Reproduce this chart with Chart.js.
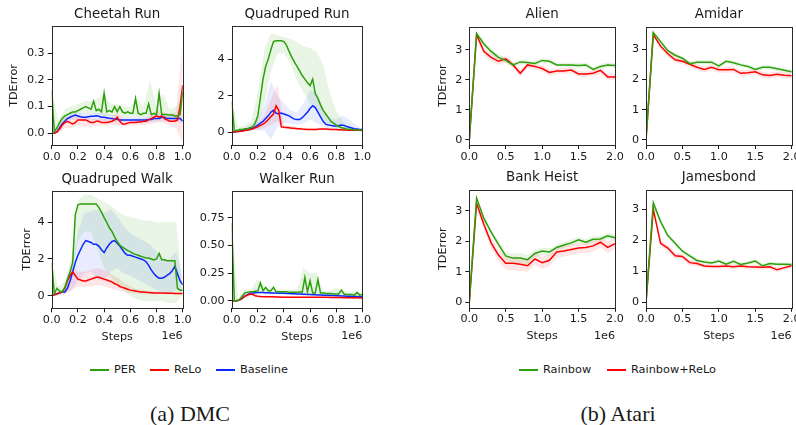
<!DOCTYPE html>
<html>
<head>
<meta charset="utf-8">
<script src="https://cdn.jsdelivr.net/npm/chart.js@4.4.1/dist/chart.umd.min.js"></script>
<style>
  html, body { margin: 0; padding: 0; background: #fff; overflow: hidden; }
  body { width: 796px; height: 425px; position: relative; font-family: "DejaVu Sans", sans-serif; color: #1a1a1a; }
  canvas { position: absolute; }
  .key { position: absolute; top: 362px; height: 16px; line-height: 16px; font-size: 11.3px; white-space: nowrap; }
  .key i { position: absolute; left: 0; top: 7px; width: 19px; height: 2px; }
  .key span { position: absolute; left: 24px; top: 0; }
  .cap { position: absolute; top: 403px; width: 200px; text-align: center; font-family: "Liberation Serif", serif; font-size: 22px; line-height: 22px; }
</style>
</head>
<body>
<div class="key" style="left:90px"><i style="background:rgb(44,160,10)"></i><span>PER</span></div>
<div class="key" style="left:150px"><i style="background:rgb(255,0,0)"></i><span>ReLo</span></div>
<div class="key" style="left:216px"><i style="background:rgb(10,40,255)"></i><span>Baseline</span></div>
<div class="key" style="left:519px"><i style="background:rgb(44,160,10)"></i><span>Rainbow</span></div>
<div class="key" style="left:607px"><i style="background:rgb(255,0,0)"></i><span>Rainbow+ReLo</span></div>
<div class="cap" style="left:90px">(a) DMC</div>
<div class="cap" style="left:518px">(b) Atari</div>
<script>
// ---- data (steps in units of 1e6) ----
const dmcSteps = [0, 0.02, 0.04, 0.06, 0.08, 0.1, 0.12, 0.14, 0.16, 0.18, 0.2, 0.22, 0.24, 0.26, 0.28, 0.3, 0.32, 0.34, 0.36, 0.38,
  0.4, 0.42, 0.44, 0.46, 0.48, 0.5, 0.52, 0.54, 0.56, 0.58, 0.6, 0.62, 0.64, 0.66, 0.68, 0.7, 0.72, 0.74, 0.76, 0.78,
  0.8, 0.82, 0.84, 0.86, 0.88, 0.9, 0.92, 0.94, 0.96, 0.98, 1.0];
const dmcBandSteps = [0, 0.05, 0.1, 0.15, 0.2, 0.25, 0.3, 0.35, 0.4, 0.45, 0.5, 0.55, 0.6, 0.65, 0.7, 0.75, 0.8, 0.85, 0.9, 0.95, 1.0];
const atariSteps = [0, 0.1, 0.2, 0.3, 0.4, 0.5, 0.6, 0.7, 0.8, 0.9, 1.0, 1.1, 1.2, 1.3, 1.4, 1.5, 1.6, 1.7, 1.8, 1.9, 2.0];

const dmcXTicks = [0, 0.2, 0.4, 0.6, 0.8, 1.0];
const atariXTicks = [0, 0.5, 1.0, 1.5, 2.0];

// Cheetah Run
const cheetahPER = [0.16, 0.005, 0.02, 0.04, 0.055, 0.065, 0.07, 0.075, 0.08, 0.08,
  0.085, 0.09, 0.095, 0.1, 0.095, 0.09, 0.12, 0.085, 0.09, 0.08,
  0.15, 0.08, 0.085, 0.08, 0.1, 0.08, 0.1, 0.08, 0.075, 0.08,
  0.075, 0.075, 0.13, 0.075, 0.07, 0.075, 0.075, 0.11, 0.07, 0.075,
  0.07, 0.15, 0.07, 0.07, 0.07, 0.068, 0.068, 0.065, 0.065, 0.07, 0.155];
const cheetahReLo = [0, 0, 0.005, 0.015, 0.03, 0.04, 0.045, 0.04, 0.035, 0.04,
  0.05, 0.05, 0.05, 0.05, 0.045, 0.04, 0.04, 0.045, 0.045, 0.04,
  0.04, 0.04, 0.042, 0.045, 0.05, 0.06, 0.045, 0.035, 0.035, 0.038,
  0.04, 0.04, 0.04, 0.042, 0.042, 0.045, 0.045, 0.05, 0.055, 0.06,
  0.065, 0.06, 0.065, 0.055, 0.05, 0.045, 0.045, 0.045, 0.05, 0.1, 0.18];
const cheetahBase = [0, 0, 0.005, 0.02, 0.035, 0.045, 0.055, 0.06, 0.065, 0.068,
  0.065, 0.062, 0.06, 0.06, 0.062, 0.064, 0.064, 0.066, 0.064, 0.06,
  0.06, 0.058, 0.056, 0.055, 0.053, 0.052, 0.05, 0.05, 0.05, 0.05,
  0.05, 0.05, 0.05, 0.05, 0.05, 0.05, 0.05, 0.052, 0.052, 0.055,
  0.055, 0.055, 0.06, 0.06, 0.055, 0.055, 0.055, 0.055, 0.055, 0.055, 0.045];
const cheetahPERLo = [0, 0.02, 0.05, 0.06, 0.07, 0.075, 0.075, 0.07, 0.065, 0.065, 0.065, 0.06, 0.06, 0.06, 0.06, 0.06, 0.055, 0.055, 0.055, 0.05, 0.05];
const cheetahPERHi = [0.16, 0.05, 0.09, 0.1, 0.11, 0.12, 0.12, 0.13, 0.15, 0.11, 0.11, 0.1, 0.1, 0.13, 0.1, 0.2, 0.1, 0.15, 0.09, 0.1, 0.16];
const cheetahReLoLo = [0, 0, 0.02, 0.02, 0.03, 0.025, 0.025, 0.03, 0.03, 0.03, 0.03, 0.025, 0.03, 0.03, 0.03, 0.035, 0.04, 0.04, 0.03, 0.02, -0.04];
const cheetahReLoHi = [0, 0.03, 0.06, 0.06, 0.07, 0.06, 0.055, 0.055, 0.055, 0.06, 0.075, 0.05, 0.05, 0.055, 0.055, 0.06, 0.085, 0.08, 0.07, 0.08, 0.35];
const cheetahBaseLo = [0, 0.01, 0.035, 0.05, 0.05, 0.05, 0.05, 0.045, 0.045, 0.04, 0.04, 0.04, 0.04, 0.04, 0.04, 0.04, 0.045, 0.045, 0.045, 0.045, 0.035];
const cheetahBaseHi = [0, 0.03, 0.06, 0.075, 0.08, 0.075, 0.075, 0.075, 0.075, 0.07, 0.065, 0.06, 0.06, 0.06, 0.06, 0.065, 0.07, 0.07, 0.075, 0.07, 0.06];

// Quadruped Run
const quadRunPER = [1.7, 0.1, 0.1, 0.15, 0.15, 0.2, 0.2, 0.25, 0.3, 0.5,
  0.9, 1.9, 2.9, 3.6, 4.0, 4.5, 4.95, 5.0, 5.0, 5.0,
  4.95, 4.75, 4.4, 4.1, 3.85, 3.6, 3.35, 3.1, 2.9, 2.7,
  2.55, 2.9, 2.1, 1.85, 1.5, 1.2, 1.0, 0.8, 0.6, 0.5,
  0.4, 0.32, 0.25, 0.22, 0.18, 0.17, 0.15, 0.14, 0.13, 0.13, 0.12];
const quadRunReLo = [0, 0.02, 0.04, 0.05, 0.07, 0.1, 0.12, 0.15, 0.2, 0.25,
  0.3, 0.38, 0.45, 0.55, 0.7, 0.85, 1.0, 1.45, 1.2, 0.3,
  0.28, 0.27, 0.25, 0.23, 0.22, 0.2, 0.2, 0.18, 0.17, 0.16,
  0.15, 0.15, 0.16, 0.17, 0.18, 0.18, 0.18, 0.17, 0.16, 0.15,
  0.15, 0.14, 0.14, 0.13, 0.13, 0.12, 0.12, 0.12, 0.11, 0.11, 0.1];
const quadRunBase = [0, 0.02, 0.04, 0.06, 0.09, 0.12, 0.15, 0.18, 0.22, 0.3,
  0.4, 0.5, 0.6, 0.75, 0.9, 1.1, 1.2, 1.05, 1.0, 1.05,
  1.0, 0.95, 0.9, 0.8, 0.72, 0.7, 0.7, 0.8, 0.95, 1.1,
  1.3, 1.45, 1.35, 1.1, 0.85, 0.6, 0.45, 0.4, 0.38, 0.35,
  0.35, 0.38, 0.4, 0.38, 0.32, 0.28, 0.24, 0.2, 0.18, 0.16, 0.15];
const quadRunPERLo = [0, 0.05, 0.1, 0.15, 0.3, 1.5, 3.3, 4.3, 4.3, 3.8, 2.8, 2.2, 1.6, 1.2, 0.7, 0.4, 0.25, 0.15, 0.1, 0.1, 0.1];
const quadRunPERHi = [1.7, 0.3, 0.4, 0.6, 2.2, 4.5, 5.4, 5.3, 5.2, 5.1, 4.9, 4.7, 4.6, 4.4, 3.7, 2.2, 1.2, 0.6, 0.3, 0.2, 0.15];
const quadRunReLoLo = [0, 0.02, 0.05, 0.1, 0.15, 0.25, 0.4, 0.6, 0.2, 0.15, 0.12, 0.1, 0.1, 0.1, 0.12, 0.1, 0.1, 0.08, 0.08, 0.08, 0.08];
const quadRunReLoHi = [0, 0.05, 0.15, 0.3, 0.5, 0.9, 1.8, 2.6, 0.4, 0.35, 0.3, 0.25, 0.25, 0.25, 0.25, 0.22, 0.2, 0.17, 0.15, 0.13, 0.12];
const quadRunBaseLo = [0, 0, 0.05, 0.1, 0.1, 0.1, -0.4, 0.3, 0.5, 0.5, 0.4, 0.5, 0.7, 0.5, 0.3, 0.2, 0.1, 0.05, 0.05, 0.05, 0.05];
const quadRunBaseHi = [0, 0.1, 0.25, 0.45, 0.8, 1.4, 2.8, 2.0, 1.6, 1.2, 1.1, 1.6, 2.3, 2.2, 1.3, 0.8, 0.7, 0.9, 0.7, 0.4, 0.2];

// Quadruped Walk
const quadWalkPER = [1.8, 0.1, 0.4, 0.25, 0.2, 0.45, 0.9, 1.3, 1.8, 4.4,
  4.95, 5.0, 5.0, 5.0, 5.0, 5.0, 5.0, 5.0, 4.8, 4.55,
  4.25, 4.0, 3.7, 3.5, 3.2, 2.95, 2.75, 2.65, 2.55, 2.45,
  2.4, 2.3, 2.25, 2.2, 2.15, 2.1, 2.05, 2.05, 2.0, 1.95,
  2.0, 2.3, 1.95, 1.95, 1.9, 1.9, 1.9, 1.9, 0.4, 0.3, 0.3];
const quadWalkReLo = [0, 0.05, 0.1, 0.15, 0.2, 0.4, 0.8, 1.1, 1.3, 1.1,
  0.9, 0.85, 0.8, 0.8, 0.85, 0.9, 0.95, 1.0, 1.0, 0.95,
  0.9, 0.85, 0.8, 0.75, 0.65, 0.6, 0.5, 0.45, 0.4, 0.35,
  0.3, 0.28, 0.25, 0.22, 0.2, 0.2, 0.18, 0.17, 0.16, 0.15,
  0.15, 0.15, 0.14, 0.14, 0.13, 0.13, 0.13, 0.12, 0.12, 0.12, 0.12];
const quadWalkBase = [0, 0.05, 0.1, 0.15, 0.2, 0.2, 0.4, 0.8, 1.3, 1.8,
  2.2, 2.5, 2.8, 3.0, 2.95, 2.9, 2.8, 2.8, 2.7, 2.5,
  2.35, 2.6, 2.8, 2.95, 3.0, 2.85, 2.7, 2.5, 2.3, 2.2,
  2.2, 2.15, 2.1, 2.05, 2.0, 1.95, 1.85, 1.65, 1.4, 1.2,
  1.05, 0.95, 0.95, 1.0, 1.1, 1.2, 1.35, 1.6, 1.2, 0.8, 0.6];
const quadWalkPERLo = [0, 0.1, 0.3, 0.8, 3.0, 3.5, 3.5, 2.5, 1.5, 1.0, 0.5, 0.3, 0, -0.2, -0.3, -0.3, -0.3, -0.3, -0.4, -0.4, 0.1];
const quadWalkPERHi = [1.8, 0.5, 0.8, 2.0, 5.2, 5.5, 5.5, 5.3, 5.1, 4.9, 4.6, 4.4, 4.3, 4.2, 4.1, 4.1, 4.0, 4.0, 4.0, 4.0, 0.4];
const quadWalkReLoLo = [0, 0.02, 0.1, 0.3, 0.5, 0.5, 0.5, 0.6, 0.5, 0.4, 0.3, 0.2, 0.15, 0.1, 0.08, 0.08, 0.07, 0.07, 0.07, 0.06, 0.06];
const quadWalkReLoHi = [0, 0.1, 0.5, 1.6, 1.3, 1.3, 1.4, 1.5, 1.4, 1.2, 1.0, 0.7, 0.5, 0.35, 0.3, 0.25, 0.22, 0.2, 0.2, 0.18, 0.18];
const quadWalkBaseLo = [0, 0, 0.1, 0.3, 0.8, 1.2, 1.3, 0.9, 0.8, 1.3, 1.5, 1.2, 1.1, 0.9, 0.7, 0.5, 0.3, 0.2, 0.1, 0.3, 0.2];
const quadWalkBaseHi = [0, 0.1, 0.3, 1.5, 3.5, 4.5, 4.6, 4.7, 4.5, 4.7, 4.3, 3.8, 3.4, 3.2, 3.0, 2.8, 2.4, 2.0, 2.0, 2.4, 1.0];

// Walker Run
const walkerPER = [0.7, 0, 0, 0.01, 0.04, 0.07, 0.075, 0.08, 0.08, 0.085,
  0.09, 0.16, 0.09, 0.12, 0.09, 0.09, 0.12, 0.08, 0.08, 0.08,
  0.08, 0.08, 0.075, 0.075, 0.075, 0.075, 0.08, 0.075, 0.21, 0.08,
  0.18, 0.07, 0.07, 0.19, 0.07, 0.07, 0.065, 0.065, 0.065, 0.06,
  0.06, 0.06, 0.095, 0.06, 0.055, 0.055, 0.055, 0.05, 0.075, 0.05, 0.055];
const walkerReLo = [0, 0, 0, 0.005, 0.02, 0.04, 0.05, 0.058, 0.058, 0.045,
  0.04, 0.037, 0.035, 0.035, 0.035, 0.035, 0.035, 0.033, 0.033, 0.032,
  0.032, 0.032, 0.031, 0.031, 0.031, 0.03, 0.03, 0.03, 0.03, 0.03,
  0.03, 0.03, 0.03, 0.03, 0.03, 0.03, 0.03, 0.03, 0.029, 0.029,
  0.028, 0.028, 0.028, 0.027, 0.027, 0.027, 0.026, 0.026, 0.026, 0.025, 0.025];
const walkerBase = [0, 0, 0, 0.005, 0.02, 0.04, 0.055, 0.065, 0.07, 0.072,
  0.074, 0.074, 0.073, 0.072, 0.071, 0.07, 0.07, 0.069, 0.068, 0.067,
  0.066, 0.065, 0.064, 0.063, 0.062, 0.061, 0.06, 0.058, 0.057, 0.056,
  0.055, 0.054, 0.053, 0.052, 0.051, 0.05, 0.049, 0.048, 0.047, 0.046,
  0.045, 0.044, 0.043, 0.042, 0.041, 0.04, 0.039, 0.038, 0.037, 0.036, 0.035];
const walkerPERLo = [0, 0, 0.04, 0.06, 0.07, 0.07, 0.07, 0.065, 0.065, 0.06, 0.06, 0.06, 0.06, 0.055, 0.055, 0.05, 0.05, 0.045, 0.045, 0.045, 0.045];
const walkerPERHi = [0.7, 0.01, 0.1, 0.1, 0.2, 0.12, 0.12, 0.1, 0.1, 0.1, 0.1, 0.3, 0.25, 0.25, 0.09, 0.09, 0.12, 0.08, 0.08, 0.08, 0.07];
const walkerReLoLo = [0, 0, 0.025, 0.045, 0.03, 0.028, 0.028, 0.025, 0.025, 0.025, 0.025, 0.025, 0.025, 0.022, 0.022, 0.02, 0.02, 0.02, 0.02, 0.018, 0.018];
const walkerReLoHi = [0, 0, 0.05, 0.07, 0.05, 0.045, 0.042, 0.04, 0.04, 0.04, 0.04, 0.038, 0.038, 0.035, 0.035, 0.035, 0.033, 0.033, 0.032, 0.032, 0.03];
const walkerBaseLo = [0, 0, 0.03, 0.06, 0.065, 0.065, 0.062, 0.06, 0.058, 0.055, 0.052, 0.05, 0.048, 0.046, 0.044, 0.042, 0.04, 0.037, 0.035, 0.033, 0.031];
const walkerBaseHi = [0, 0, 0.05, 0.075, 0.082, 0.08, 0.078, 0.076, 0.075, 0.072, 0.07, 0.067, 0.064, 0.061, 0.058, 0.055, 0.052, 0.049, 0.046, 0.043, 0.04];

// Atari
const alienRainbow = [0, 3.55, 3.2, 2.95, 2.75, 2.65, 2.5, 2.6, 2.58, 2.55, 2.65, 2.62, 2.5, 2.5, 2.5, 2.48, 2.5, 2.35, 2.45, 2.5, 2.48];
const alienReLo = [0, 3.5, 2.95, 2.75, 2.62, 2.7, 2.5, 2.22, 2.5, 2.45, 2.38, 2.25, 2.3, 2.3, 2.33, 2.2, 2.2, 2.22, 2.32, 2.1, 2.1];
const alienRainbowLo = [0, 3.5, 3.1, 2.85, 2.65, 2.55, 2.42, 2.52, 2.5, 2.48, 2.57, 2.55, 2.43, 2.43, 2.43, 2.4, 2.42, 2.27, 2.37, 2.42, 2.4];
const alienRainbowHi = [0, 3.6, 3.3, 3.05, 2.85, 2.75, 2.6, 2.68, 2.66, 2.63, 2.73, 2.7, 2.57, 2.57, 2.57, 2.56, 2.58, 2.43, 2.53, 2.58, 2.56];
const alienReLoLo = [0, 3.45, 2.82, 2.62, 2.5, 2.58, 2.4, 2.1, 2.4, 2.35, 2.28, 2.15, 2.2, 2.2, 2.23, 2.1, 2.1, 2.12, 2.2, 2.0, 2.0];
const alienReLoHi = [0, 3.55, 3.08, 2.88, 2.74, 2.82, 2.6, 2.34, 2.6, 2.55, 2.48, 2.35, 2.4, 2.4, 2.43, 2.3, 2.3, 2.32, 2.44, 2.2, 2.2];

const amidarRainbow = [0, 3.55, 3.25, 2.95, 2.8, 2.7, 2.52, 2.57, 2.57, 2.57, 2.45, 2.6, 2.55, 2.48, 2.43, 2.33, 2.4, 2.4, 2.35, 2.3, 2.25];
const amidarReLo = [0, 3.48, 3.1, 2.85, 2.65, 2.6, 2.5, 2.4, 2.33, 2.4, 2.32, 2.32, 2.33, 2.2, 2.22, 2.25, 2.15, 2.13, 2.17, 2.14, 2.12];
const amidarRainbowLo = [0, 3.5, 3.18, 2.88, 2.73, 2.63, 2.45, 2.5, 2.5, 2.5, 2.38, 2.53, 2.48, 2.41, 2.36, 2.26, 2.33, 2.33, 2.28, 2.23, 2.18];
const amidarRainbowHi = [0, 3.6, 3.32, 3.02, 2.87, 2.77, 2.59, 2.64, 2.64, 2.64, 2.52, 2.67, 2.62, 2.55, 2.5, 2.4, 2.47, 2.47, 2.42, 2.37, 2.32];
const amidarReLoLo = [0, 3.43, 3.0, 2.75, 2.55, 2.5, 2.4, 2.3, 2.23, 2.3, 2.22, 2.22, 2.23, 2.1, 2.12, 2.15, 2.05, 2.03, 2.07, 2.04, 2.02];
const amidarReLoHi = [0, 3.53, 3.2, 2.95, 2.75, 2.7, 2.6, 2.5, 2.43, 2.5, 2.42, 2.42, 2.43, 2.3, 2.32, 2.35, 2.25, 2.23, 2.27, 2.24, 2.22];

const bankRainbow = [0, 3.42, 2.75, 2.3, 1.9, 1.52, 1.45, 1.45, 1.4, 1.6, 1.68, 1.65, 1.8, 1.88, 1.95, 2.05, 1.97, 2.07, 2.08, 2.18, 2.12];
const bankReLo = [0, 3.25, 2.55, 1.95, 1.55, 1.28, 1.28, 1.25, 1.2, 1.42, 1.3, 1.38, 1.65, 1.68, 1.73, 1.78, 1.8, 1.85, 1.97, 1.8, 1.92];
const bankRainbowLo = [0, 3.35, 2.65, 2.2, 1.78, 1.4, 1.3, 1.28, 1.25, 1.47, 1.55, 1.53, 1.7, 1.78, 1.85, 1.95, 1.87, 1.97, 1.98, 2.08, 2.02];
const bankRainbowHi = [0, 3.5, 2.85, 2.4, 2.02, 1.65, 1.6, 1.62, 1.55, 1.73, 1.8, 1.77, 1.9, 1.98, 2.05, 2.15, 2.07, 2.17, 2.18, 2.28, 2.22];
const bankReLoLo = [0, 3.15, 2.4, 1.78, 1.35, 1.08, 1.05, 1.03, 1.0, 1.22, 1.1, 1.18, 1.45, 1.5, 1.55, 1.6, 1.62, 1.67, 1.8, 1.6, 1.75];
const bankReLoHi = [0, 3.35, 2.7, 2.12, 1.75, 1.48, 1.5, 1.47, 1.4, 1.62, 1.5, 1.58, 1.85, 1.86, 1.91, 1.96, 1.98, 2.03, 2.14, 2.0, 2.09];

const jamesRainbow = [0, 3.2, 2.6, 2.15, 1.9, 1.65, 1.5, 1.35, 1.3, 1.27, 1.33, 1.23, 1.32, 1.22, 1.27, 1.33, 1.18, 1.25, 1.23, 1.23, 1.22];
const jamesReLo = [0, 3.0, 1.9, 1.75, 1.5, 1.48, 1.28, 1.25, 1.17, 1.16, 1.16, 1.17, 1.15, 1.17, 1.15, 1.14, 1.13, 1.15, 1.05, 1.12, 1.18];
const jamesRainbowLo = [0, 3.1, 2.52, 2.08, 1.83, 1.58, 1.44, 1.29, 1.24, 1.21, 1.27, 1.17, 1.26, 1.16, 1.21, 1.27, 1.12, 1.19, 1.17, 1.17, 1.16];
const jamesRainbowHi = [0, 3.35, 2.68, 2.22, 1.97, 1.72, 1.56, 1.41, 1.36, 1.33, 1.39, 1.29, 1.38, 1.28, 1.33, 1.39, 1.24, 1.31, 1.29, 1.29, 1.28];
const jamesReLoLo = [0, 2.85, 1.8, 1.65, 1.4, 1.38, 1.18, 1.17, 1.1, 1.09, 1.09, 1.1, 1.06, 1.1, 1.08, 1.07, 1.06, 1.08, 0.98, 1.05, 1.11];
const jamesReLoHi = [0, 3.1, 2.0, 1.85, 1.6, 1.58, 1.38, 1.33, 1.24, 1.23, 1.23, 1.24, 1.24, 1.24, 1.22, 1.21, 1.2, 1.22, 1.12, 1.19, 1.25];

// ---- drawing ----
const INK = '#1a1a1a';
const FONT = '"DejaVu Sans", sans-serif';
const GREEN = 'rgb(44,160,10)', RED = 'rgb(255,0,0)', BLUE = 'rgb(10,40,255)';
const GREEN_BAND = 'rgba(44,160,10,0.11)', RED_BAND = 'rgba(255,0,0,0.1)', BLUE_BAND = 'rgba(10,40,255,0.09)';
const TOP_H = 24;   // room above each plot for its title

// matplotlib-like closed frame, title centred over the plot, "1e6" offset label
const frame = {
  id: 'frame',
  afterDraw(chart, args, opts) {
    const {ctx, chartArea: a} = chart;
    ctx.save();
    ctx.strokeStyle = '#2a2a2a';
    ctx.lineWidth = 1;
    const l = Math.round(a.left) + 0.5, t = Math.round(a.top) + 0.5;
    ctx.strokeRect(l, t, Math.round(a.right) - Math.round(a.left), Math.round(a.bottom) - Math.round(a.top));
    ctx.fillStyle = INK;
    ctx.textBaseline = 'middle';
    ctx.textAlign = 'center';
    ctx.font = '13.4px ' + FONT;
    ctx.fillText(opts.title, (a.left + a.right) / 2, a.top - 11.5);
    if (opts.offset) {
      ctx.font = '11.2px ' + FONT;
      ctx.textAlign = 'right';
      ctx.fillText('1e6', a.right, a.bottom + 28);
    }
    ctx.restore();
  }
};

function pts(xs, ys) {
  return xs.map((x, i) => ({x: x, y: ys[i]}));
}

function panel(p) {
  const [pl, pt, pr, pb] = p.box;
  const cl = Math.floor(pl - p.yw);
  const ct = Math.floor(pt - TOP_H);
  const w = Math.ceil(pr - cl + 12);
  const h = Math.ceil(pb - ct + p.xh);
  const yw = pl - cl;
  const canvas = document.createElement('canvas');
  canvas.width = w; canvas.height = h;
  canvas.style.left = cl + 'px'; canvas.style.top = ct + 'px';
  canvas.style.width = w + 'px'; canvas.style.height = h + 'px';
  document.body.appendChild(canvas);

  const lines = p.series.map(s => ({
    data: pts(s.xs, s.ys), borderColor: s.color, borderWidth: 1.5,
    pointRadius: 0, tension: 0, fill: false
  }));
  const bands = [];
  p.series.forEach(s => {
    bands.push({data: pts(s.bx, s.lo), borderColor: 'rgba(0,0,0,0)', borderWidth: 0, pointRadius: 0, fill: false});
    bands.push({data: pts(s.bx, s.hi), borderColor: 'rgba(0,0,0,0)', borderWidth: 0, pointRadius: 0, fill: '-1', backgroundColor: s.band});
  });

  const tickFont = {family: FONT, size: 11.2};
  new Chart(canvas, {
    type: 'line',
    data: {datasets: lines.concat(bands)},
    options: {
      responsive: false,
      animation: false,
      devicePixelRatio: 1,
      layout: {padding: {left: 0, top: pt - ct, right: w - (pr - cl), bottom: h - (pb - ct) - p.xh}},
      plugins: {
        legend: {display: false},
        tooltip: {enabled: false},
        frame: {title: p.title, offset: p.steps}
      },
      scales: {
        x: {
          type: 'linear', min: p.xRange[0], max: p.xRange[1],
          afterBuildTicks: a => { a.ticks = p.xTicks.map(v => ({value: v})); },
          afterFit: a => { a.height = p.xh; },
          grid: {drawOnChartArea: false, drawTicks: true, tickLength: 4, color: INK},
          border: {display: false},
          ticks: {color: INK, font: tickFont, padding: 1, maxRotation: 0, autoSkip: false, callback: v => v.toFixed(1)},
          title: {display: p.steps, text: 'Steps', color: INK, font: tickFont, padding: 0}
        },
        y: {
          type: 'linear', min: p.yRange[0], max: p.yRange[1],
          afterBuildTicks: a => { a.ticks = p.yTicks.map(v => ({value: v})); },
          afterFit: a => { a.width = yw; },
          grid: {drawOnChartArea: false, drawTicks: true, tickLength: 4, color: INK},
          border: {display: false},
          ticks: {color: INK, font: tickFont, padding: 3, autoSkip: false, callback: v => v.toFixed(p.yDigits)},
          title: {display: p.yTitle, text: 'TDError', color: INK, font: tickFont, padding: 0}
        }
      }
    },
    plugins: [frame]
  });
}

function dmc(perY, reloY, baseY, perLo, perHi, reloLo, reloHi, baseLo, baseHi) {
  return [
    {xs: dmcSteps, ys: perY, color: GREEN, bx: dmcBandSteps, lo: perLo, hi: perHi, band: GREEN_BAND},
    {xs: dmcSteps, ys: reloY, color: RED, bx: dmcBandSteps, lo: reloLo, hi: reloHi, band: RED_BAND},
    {xs: dmcSteps, ys: baseY, color: BLUE, bx: dmcBandSteps, lo: baseLo, hi: baseHi, band: BLUE_BAND}
  ];
}

function atari(rainY, reloY, rainLo, rainHi, reloLo, reloHi) {
  return [
    {xs: atariSteps, ys: rainY, color: GREEN, bx: atariSteps, lo: rainLo, hi: rainHi, band: GREEN_BAND},
    {xs: atariSteps, ys: reloY, color: RED, bx: atariSteps, lo: reloLo, hi: reloHi, band: RED_BAND}
  ];
}

panel({title: 'Cheetah Run', box: [51.7, 26, 182.7, 145], yw: 44.4, xh: 20, yTitle: true, steps: false,
  xRange: [0, 1], xTicks: dmcXTicks, yRange: [-0.044, 0.402], yTicks: [0, 0.1, 0.2, 0.3], yDigits: 1,
  series: dmc(cheetahPER, cheetahReLo, cheetahBase, cheetahPERLo, cheetahPERHi, cheetahReLoLo, cheetahReLoHi, cheetahBaseLo, cheetahBaseHi)});
panel({title: 'Quadruped Run', box: [231.7, 26, 362.3, 145], yw: 30, xh: 20, yTitle: false, steps: false,
  xRange: [0, 1], xTicks: dmcXTicks, yRange: [-0.69, 5.8], yTicks: [0, 2, 4], yDigits: 0,
  series: dmc(quadRunPER, quadRunReLo, quadRunBase, quadRunPERLo, quadRunPERHi, quadRunReLoLo, quadRunReLoHi, quadRunBaseLo, quadRunBaseHi)});
panel({title: 'Quadruped Walk', box: [51.7, 190.7, 182.7, 308.3], yw: 31.7, xh: 35.4, yTitle: true, steps: true,
  xRange: [0, 1], xTicks: dmcXTicks, yRange: [-0.69, 5.72], yTicks: [0, 2, 4], yDigits: 0,
  series: dmc(quadWalkPER, quadWalkReLo, quadWalkBase, quadWalkPERLo, quadWalkPERHi, quadWalkReLoLo, quadWalkReLoHi, quadWalkBaseLo, quadWalkBaseHi)});
panel({title: 'Walker Run', box: [231.7, 190.7, 362.3, 308.3], yw: 36, xh: 35.4, yTitle: false, steps: true,
  xRange: [0, 1], xTicks: dmcXTicks, yRange: [-0.069, 0.994], yTicks: [0, 0.25, 0.5, 0.75], yDigits: 2,
  series: dmc(walkerPER, walkerReLo, walkerBase, walkerPERLo, walkerPERHi, walkerReLoLo, walkerReLoHi, walkerBaseLo, walkerBaseHi)});

panel({title: 'Alien', box: [469.3, 26.5, 615, 145], yw: 32.7, xh: 20, yTitle: true, steps: false,
  xRange: [0, 2], xTicks: atariXTicks, yRange: [-0.17, 3.78], yTicks: [0, 1, 2, 3], yDigits: 0,
  series: atari(alienRainbow, alienReLo, alienRainbowLo, alienRainbowHi, alienReLoLo, alienReLoHi)});
panel({title: 'Amidar', box: [646, 26.5, 791.7, 145], yw: 25, xh: 20, yTitle: false, steps: false,
  xRange: [0, 2], xTicks: atariXTicks, yRange: [-0.17, 3.75], yTicks: [0, 1, 2, 3], yDigits: 0,
  series: atari(amidarRainbow, amidarReLo, amidarRainbowLo, amidarRainbowHi, amidarReLoLo, amidarReLoHi)});
panel({title: 'Bank Heist', box: [469.3, 189.5, 615, 307.8], yw: 32.7, xh: 35.4, yTitle: true, steps: true,
  xRange: [0, 2], xTicks: atariXTicks, yRange: [-0.18, 3.7], yTicks: [0, 1, 2, 3], yDigits: 0,
  series: atari(bankRainbow, bankReLo, bankRainbowLo, bankRainbowHi, bankReLoLo, bankReLoHi)});
panel({title: 'Jamesbond', box: [646, 189.5, 791.7, 307.8], yw: 25, xh: 35.4, yTitle: false, steps: true,
  xRange: [0, 2], xTicks: atariXTicks, yRange: [-0.17, 3.63], yTicks: [0, 1, 2, 3], yDigits: 0,
  series: atari(jamesRainbow, jamesReLo, jamesRainbowLo, jamesRainbowHi, jamesReLoLo, jamesReLoHi)});
</script>
</body>
</html>
